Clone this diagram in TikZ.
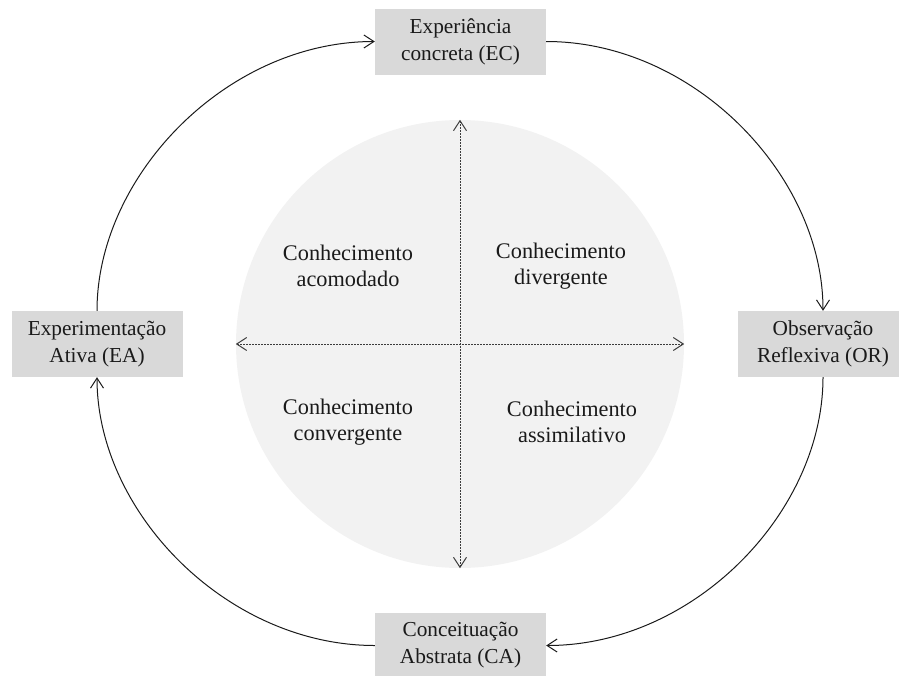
\documentclass[tikz,border=0pt]{standalone}
\usepackage{fontspec}
\setmainfont{Liberation Serif}
\usetikzlibrary{arrows.meta}
\definecolor{boxgray}{HTML}{D9D9D9}
\definecolor{circgray}{HTML}{F2F2F2}
\definecolor{inkc}{HTML}{1A1A1A}
\begin{document}
\begin{tikzpicture}[x=1pt,y=-1pt,
  stagebox/.style={fill=boxgray, draw=none, minimum width=171pt, minimum height=66pt,
    align=center, inner sep=0pt, text=inkc, font=\fontsize{21.3}{27}\selectfont},
  quadtext/.style={align=center, text=inkc, inner sep=0pt, font=\fontsize{22.3}{26}\selectfont},
  cyc/.style={draw=inkc, line width=1pt, -{Straight Barb[length=10pt,width=13pt,line width=1pt]}},
  axis/.style={draw=inkc!85, line width=1pt, dash pattern=on 2pt off 1pt,
    {Straight Barb[length=10pt,width=13pt,line width=1pt]}-{Straight Barb[length=10pt,width=13pt,line width=1pt]}}
  ]
\useasboundingbox (0,0) rectangle (899,675);
\node[circle, fill=circgray, minimum size=448pt, inner sep=0pt] (circ) at (460,344) {};
\draw[axis] (circ.north) -- (circ.south);
\draw[axis] (circ.west) -- (circ.east);
\node[quadtext] (acom) at (348,266) {Conhecimento\\acomodado};
\node[quadtext] (dive) at (561,266) {Conhecimento\\divergente};
\node[quadtext] (conv) at (348,422) {Conhecimento\\convergente};
\node[quadtext] (assi) at (572,422) {Conhecimento\\assimilativo};
\node[stagebox] (ec) at (460.5,41.5) {Experiência\\concreta (EC)};
\node[stagebox] (or) at (823,344) {Observação\\Reflexiva (OR)};
\node[stagebox] (ca) at (460.5,645.5) {Conceituação\\Abstrata (CA)};
\node[stagebox] (ea) at (97,344) {Experimentação\\Ativa (EA)};
\draw[cyc] (ec.east) .. controls +(148,0) and +(0,-135) .. (or.north);
\draw[cyc] (or.south) .. controls +(0,135) and +(148,0) .. (ca.east);
\draw[cyc] (ca.west) .. controls +(-148,0) and +(0,135) .. (ea.south);
\draw[cyc] (ea.north) .. controls +(0,-135) and +(-148,0) .. (ec.west);
\end{tikzpicture}
\end{document}
